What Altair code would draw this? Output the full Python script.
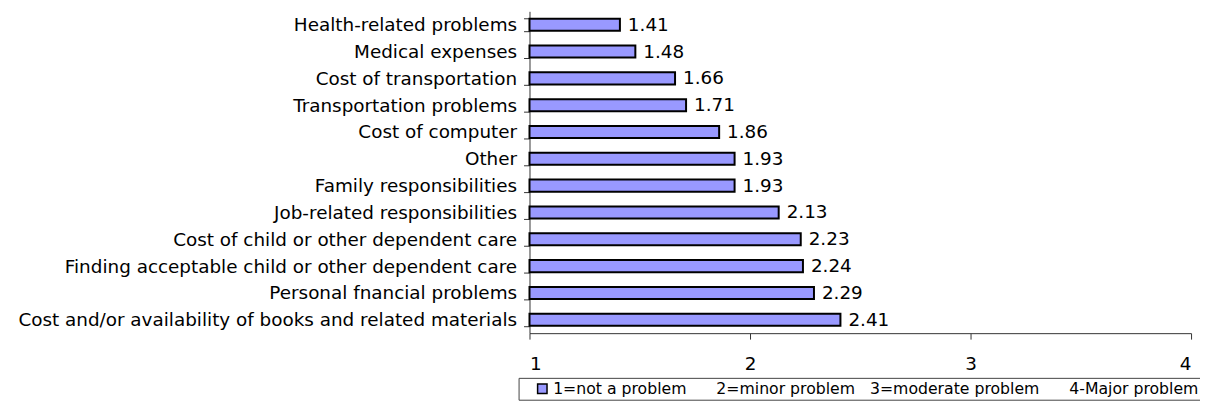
import altair as alt
import pandas as pd

categories = [
    "Health-related problems",
    "Medical expenses",
    "Cost of transportation",
    "Transportation problems",
    "Cost of computer",
    "Other",
    "Family responsibilities",
    "Job-related responsibilities",
    "Cost of child or other dependent care",
    "Finding acceptable child or other dependent care",
    "Personal fnancial problems",
    "Cost and/or availability of books and related materials",
]
values = [1.41, 1.48, 1.66, 1.71, 1.86, 1.93, 1.93, 2.13, 2.23, 2.24, 2.29, 2.41]
x_ticks = [1, 2, 3, 4]
NB = "\u00a0"
legend_label = ("1=not a problem" + NB * 6 + "2=minor problem" + NB * 3 +
                "3=moderate problem" + NB * 6 + "4-Major problem")

df = pd.DataFrame({"category": categories, "value": values, "legend": legend_label})

FONT = "DejaVu Sans"
FS = 18.5

y_enc = alt.Y(
    "category:N",
    sort=categories,
    title=None,
    scale=alt.Scale(paddingInner=0.55, paddingOuter=0.275),
    axis=alt.Axis(
        labelFontSize=FS, labelFont=FONT, labelColor="black", labelLimit=700,
        labelPadding=7, tickSize=6, tickColor="#333", domainColor="#333",
        tickBand="extent", grid=False, ticks=True, tickWidth=1,
    ),
)
x_enc = alt.X(
    "value:Q",
    title=None,
    scale=alt.Scale(domain=[1, 4], zero=False, nice=False),
    axis=alt.Axis(
        values=x_ticks, format="d", labelFontSize=FS, labelFont=FONT,
        labelColor="black", labelPadding=16, tickSize=6, tickColor="#333",
        domainColor="#333", grid=False,
    ),
)

bars = alt.Chart(df).mark_bar(stroke="black", strokeWidth=2).encode(
    y=y_enc,
    x=x_enc,
    x2=alt.datum(1),
    color=alt.Color(
        "legend:N",
        scale=alt.Scale(range=["#9999FF"]),
        legend=alt.Legend(
            title=None, orient="none", legendX=-11, legendY=369,
            labelFontSize=15.8, labelFont=FONT, labelColor="black", labelLimit=900,
            symbolType="square", symbolSize=90, symbolStrokeColor="black",
            symbolStrokeWidth=1.5, symbolFillColor="#9999FF", symbolOffset=13,
            labelOffset=3, strokeColor="#444", padding=3,
        ),
    ),
)

labels = alt.Chart(df).mark_text(
    align="left", baseline="middle", dx=8, fontSize=FS, font=FONT, color="black"
).encode(
    y=alt.Y("category:N", sort=categories),
    x=alt.X("value:Q"),
    text=alt.Text("value:Q", format=".2f"),
)

chart = (bars + labels).properties(
    width=666, height=324,
    autosize=alt.AutoSizeParams(type="none"),
    padding={"left": 525, "top": 2, "right": 9, "bottom": 74},
).configure(background="white").configure_view(stroke=None)

chart.save("out.html", embed_options={"renderer": "svg", "actions": False})
